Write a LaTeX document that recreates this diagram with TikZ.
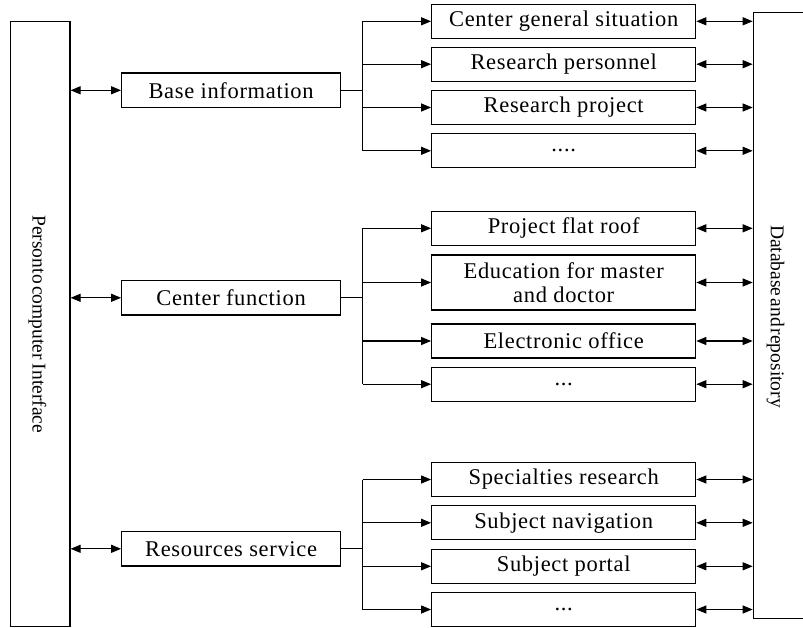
\documentclass[tikz,border=0pt]{standalone}
\usepackage{fontspec}
\setmainfont{Liberation Serif}
\newfontfamily\boxfont[LetterSpace=3]{Liberation Serif}
\usetikzlibrary{arrows.meta}
\begin{document}
\begin{tikzpicture}[x=1pt,y=-1pt,line width=1.2pt,
  >={Triangle[length=10pt,width=8pt]},
  midbox/.style={draw,minimum width=218.8pt,minimum height=34.5pt,inner sep=0pt,font=\boxfont\fontsize{22.5}{24}\selectfont},
  rbox/.style={draw,minimum width=264pt,minimum height=34pt,inner sep=0pt,align=center,font=\boxfont\fontsize{22.5}{24}\selectfont},
  tallbox/.style={draw,inner sep=0pt},
  vtext/.style={rotate=-90,inner sep=0pt,font=\fontsize{19.5}{24}\selectfont}]
\useasboundingbox (0,0) rectangle (803,628);

% tall side boxes
\node[tallbox,minimum width=59.3pt,minimum height=605pt] (L) at (40.35,324.2) {};
\node[vtext] (Lt) at (37.5,324.2) {Person\hspace{0.5pt}to\hspace{2pt}computer\hspace{4pt}Interface};
\node[tallbox,minimum width=52.7pt,minimum height=605.6pt] (R) at (779.65,315.5) {};
\node[vtext] (Rt) at (775.5,316.5) {Database\hspace{2pt}and\hspace{2pt}repository};

% middle boxes
\node[midbox] (B) at (231.1,90.3) {Base information};
\node[midbox] (C) at (231.1,297.8) {Center function};
\node[midbox] (S) at (231.1,548.8) {Resources service};

% right boxes
\node[rbox] (b1) at (563.7,21.3) {Center general situation};
\node[rbox] (b2) at (563.7,64.2) {Research personnel};
\node[rbox] (b3) at (563.7,107.5) {Research project};
\node[rbox] (b4) at (563.7,150.8) {....};
\node[rbox] (c1) at (563.7,228.3) {Project flat roof};
\node[rbox,minimum height=55pt] (c2) at (563.7,282.5) {Education for master\\and doctor};
\node[rbox] (c3) at (563.7,341) {Electronic office};
\node[rbox] (c4) at (563.7,384.2) {...};
\node[rbox] (s1) at (563.7,479.5) {Specialties research};
\node[rbox] (s2) at (563.7,522.8) {Subject navigation};
\node[rbox] (s3) at (563.7,566.3) {Subject portal};
\node[rbox] (s4) at (563.7,609.5) {...};

% bus junctions
\coordinate (jB) at (362.7,90.3);
\coordinate (jC) at (362.7,297.8);
\coordinate (jS) at (362.7,548.8);

\draw (B.east) -- (jB);
\draw (b1.west -| jB) -- (b4.west -| jB);
\foreach \n in {b1,b2,b3,b4} \draw[->] (\n.west -| jB) -- (\n.west);
\draw (C.east) -- (jC);
\draw (c1.west -| jC) -- (c4.west -| jC);
\foreach \n in {c1,c2,c3,c4} \draw[->] (\n.west -| jC) -- (\n.west);
\draw (S.east) -- (jS);
\draw (s1.west -| jS) -- (s4.west -| jS);
\foreach \n in {s1,s2,s3,s4} \draw[->] (\n.west -| jS) -- (\n.west);

% left double arrows
\foreach \n in {B,C,S} \draw[<->] (\n.west -| L.east) -- (\n.west);
% right double arrows
\foreach \n in {b1,b2,b3,b4,c1,c2,c3,c4,s1,s2,s3,s4} \draw[<->] (\n.east) -- (\n.east -| R.west);
\end{tikzpicture}
\end{document}
